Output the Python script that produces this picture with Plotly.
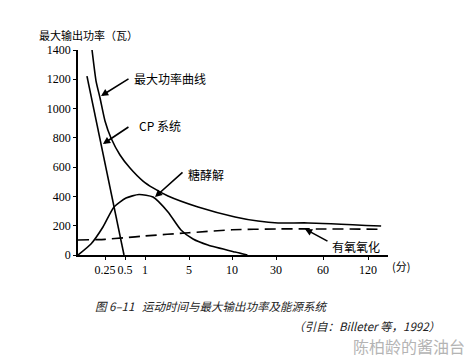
import numpy as np
import plotly.graph_objects as go

# ---------------- data ----------------
# time axis (minutes) is a schematic, piecewise scale
tick_minutes = [0.25, 0.5, 1, 5, 10, 30, 60, 120]
tick_labels = ["0.25", "0.5", "1", "5", "10", "30", "60", "120"]
scale_minutes = [0, 0.25, 0.5, 1, 5, 10, 30, 60, 120, 240]
scale_units = [0, 27, 47, 67, 111, 154, 198, 245, 290, 335]

y_ticks = [0, 200, 400, 600, 800, 1000, 1200, 1400]

# maximal power curve (W)
max_t = [0.13, 0.167, 0.204, 0.25, 0.325, 0.4375, 0.625, 0.95, 1.73, 3.09, 6.05, 11.4, 21.8, 31.3, 50.4, 155]
max_p = [1400, 1188, 1072, 915, 799, 683, 594, 505, 458, 403, 328, 260, 232, 219, 219, 198]

# CP (phosphocreatine) system
cp_t = [0.083, 0.25, 0.3125, 0.4875]
cp_p = [1222, 623, 458, 0]

# glycolysis
gly_t = [0, 0.12, 0.231, 0.3625, 0.525, 0.85, 1.73, 3.09, 4.27, 5.47, 7.2, 11.4, 17]
gly_p = [0, 75, 191, 328, 389, 413, 396, 294, 171, 109, 68, 20, 0]

# aerobic oxidation
aer_t = [0, 0.25, 0.5, 1, 5, 10, 30, 60, 155]
aer_p = [102, 107, 118, 130, 152, 172, 178, 178, 176]


def to_axis(t):
    return np.interp(np.asarray(t, dtype=float), scale_minutes, scale_units)


W, H = 472, 358
L, R, T, B = 70, 92, 42, 111
PW, PH = W - L - R, H - T - B


def pxx(px):
    return (px - L) / PW


def pxy(py):
    return (H - B - py) / PH


fig = go.Figure()
line_style = dict(color="black", width=1.6)
fig.add_trace(go.Scatter(x=to_axis(max_t), y=max_p, mode="lines",
                         line=dict(line_style, shape="spline", smoothing=0.5)))
fig.add_trace(go.Scatter(x=to_axis(cp_t), y=cp_p, mode="lines", line=line_style))
fig.add_trace(go.Scatter(x=to_axis(gly_t), y=gly_p, mode="lines",
                         line=dict(line_style, shape="spline", smoothing=0.6)))
fig.add_trace(go.Scatter(x=to_axis(aer_t), y=aer_p, mode="lines",
                         line=dict(color="black", width=1.6, dash="11px,6px",
                                   shape="spline", smoothing=0.4)))

cjk = "Noto Sans CJK SC"
serif = "'Liberation Serif', 'DejaVu Serif', serif"

ann = []
# curve labels
labels = [
    ("最大功率曲线", 124, 70),
    ("CP 系统", 129, 117),
    ("糖酵解", 178, 166),
    ("有氧氧化", 322, 238),
]
for txt, px, py in labels:
    ann.append(dict(text=txt, xref="paper", yref="paper", x=pxx(px), y=pxy(py),
                    xanchor="left", yanchor="middle", showarrow=False,
                    font=dict(family=cjk, size=12, color="black")))

# arrows (tip on curve, tail offset in pixels)
arrows = [
    (0.213, 1086, 29, -18),
    (0.231, 758, 27, -18),
    (1.91, 396, 29, -26),
    (48.5, 178, 24, 13),
]
for t, p, ax, ay in arrows:
    ann.append(dict(text="", x=float(to_axis(t)), y=p, xref="x", yref="y",
                    ax=ax, ay=ay, showarrow=True, arrowhead=2, arrowsize=0.9,
                    arrowwidth=1.6, arrowcolor="black", standoff=0))

# axis titles
ann.append(dict(text="最大输出功率（瓦）", xref="paper", yref="paper", x=pxx(30), y=pxy(27),
                xanchor="left", yanchor="middle", showarrow=False, borderpad=0,
                font=dict(family=cjk, size=11, color="black")))
ann.append(dict(text="(分)", xref="paper", yref="paper", x=pxx(393), y=pxy(258),
                xanchor="center", yanchor="middle", showarrow=False,
                font=dict(family=cjk, size=11, color="black")))

# caption lines
ann.append(dict(text="<i>图 6–11   运动时间与最大输出功率及能源系统</i>", xref="paper", yref="paper",
                x=pxx(85), y=pxy(298), xanchor="left", yanchor="middle", showarrow=False,
                font=dict(family=cjk, size=11.5, color="#222")))
ann.append(dict(text="<i>（引自：Billeter 等，1992）</i>", xref="paper", yref="paper",
                x=pxx(434), y=pxy(318), xanchor="right", yanchor="middle", showarrow=False,
                font=dict(family=cjk, size=11.5, color="#222")))
ann.append(dict(text="陈柏龄的酱油台", xref="paper", yref="paper",
                x=pxx(459), y=pxy(338), xanchor="right", yanchor="middle", showarrow=False,
                font=dict(family=cjk, size=16, color="#b4b4b4")))

fig.update_layout(
    width=W, height=H,
    margin=dict(l=L, r=R, t=T, b=B, pad=0),
    paper_bgcolor="white", plot_bgcolor="white",
    showlegend=False,
    annotations=ann,
    xaxis=dict(range=[0, 310], showgrid=False, zeroline=False, showline=True,
               linecolor="black", linewidth=1.8, ticks="outside", ticklen=3,
               tickcolor="black", tickwidth=1, tickangle=0,
               tickvals=list(to_axis(tick_minutes)), ticktext=tick_labels,
               tickfont=dict(family=serif, size=12, color="black")),
    yaxis=dict(range=[0, 1400], showgrid=False, zeroline=False, showline=True,
               linecolor="black", linewidth=1.8, ticks="outside", ticklen=3,
               tickcolor="black", tickwidth=1, tickvals=y_ticks,
               tickfont=dict(family=serif, size=12, color="black")),
)

fig.write_html("out.html")
